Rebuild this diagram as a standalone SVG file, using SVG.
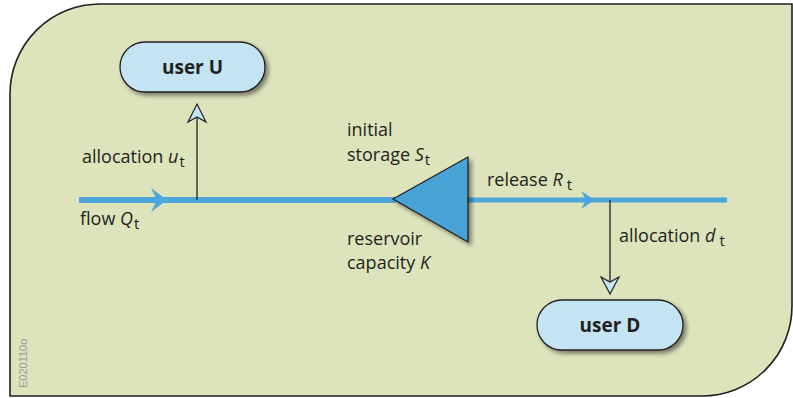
<svg xmlns="http://www.w3.org/2000/svg" width="793" height="398" viewBox="0 0 793 398">
<style>
.t{font-family:"Open Sans","Liberation Sans",sans-serif;font-size:18px;fill:#231f20}
.i{font-style:italic}
.s{font-size:15px}
.b{font-family:"Open Sans","Liberation Sans",sans-serif;font-size:19px;font-weight:bold;fill:#231f20}
.pill{fill:#c4e4f4;stroke:#231f20;stroke-width:1.3}
.flow{stroke:#4da6d9;fill:none}
.thin{stroke:#231f20;stroke-width:1.3;fill:none}
.head{fill:#c4e4f4;stroke:#231f20;stroke-width:1.2;stroke-linejoin:miter}
</style>
<defs>
<filter id="sh" x="-20%" y="-20%" width="150%" height="160%">
<feDropShadow dx="3" dy="3" stdDeviation="2" flood-color="#000" flood-opacity="0.45"/>
</filter>
</defs>
<path d="M10,396 L10,94 A90,90 0 0 1 100,4 L792,4 L792,306 A90,90 0 0 1 702,396 Z" fill="#dde4bc" stroke="#231f20" stroke-width="1.6"/>
<text transform="translate(27,388) rotate(-90)" font-family="Liberation Sans, sans-serif" font-size="11" fill="#9a9a9a">E020110o</text>
<g id="connectors">
<line class="flow" x1="79" y1="200" x2="396" y2="200" stroke-width="6"/>
<path d="M167,200 L151,188 L157,200 L151,212 Z" fill="#4da6d9"/>
<line class="flow" x1="466" y1="200" x2="727" y2="200" stroke-width="5"/>
<path d="M595,200 L581,191 L586,200 L581,209 Z" fill="#4da6d9"/>
<line class="thin" x1="197" y1="200" x2="197" y2="117"/>
<path class="head" d="M197,104 L206,122 L197,117 L188,122 Z"/>
<line class="thin" x1="610" y1="200" x2="610" y2="282"/>
<path class="head" d="M610,294 L601,277 L610,282 L619,277 Z"/>
</g>
<g id="reservoir">
<polygon points="393,199 468,157 468,242" fill="#4aa3d6" stroke="#231f20" stroke-width="1.3" filter="url(#sh)"/>
</g>
<g id="userU">
<rect class="pill" x="120" y="42" width="145" height="50" rx="25" ry="25" filter="url(#sh)"/>
<text class="b" x="192.5" y="74" text-anchor="middle">user U</text>
</g>
<g id="userD">
<rect class="pill" x="537" y="300" width="146" height="50" rx="25" ry="25" filter="url(#sh)"/>
<text class="b" x="610" y="332" text-anchor="middle">user D</text>
</g>
<g id="labels">
<text class="t" x="82" y="163">allocation <tspan class="i">u</tspan><tspan class="s" dx="1" dy="4">t</tspan></text>
<text class="t" x="80" y="225">flow <tspan class="i">Q</tspan><tspan class="s" dx="1" dy="4">t</tspan></text>
<text class="t" x="347" y="136">initial</text>
<text class="t" x="347" y="161">storage <tspan class="i">S</tspan><tspan class="s" dx="1" dy="4">t</tspan></text>
<text class="t" x="347" y="245">reservoir</text>
<text class="t" x="347" y="269">capacity <tspan class="i">K</tspan></text>
<text class="t" x="487" y="186">release <tspan class="i">R</tspan><tspan class="s" dx="4" dy="4">t</tspan></text>
<text class="t" x="619" y="242">allocation <tspan class="i">d</tspan><tspan class="s" dx="4" dy="4">t</tspan></text>
</g>
</svg>
